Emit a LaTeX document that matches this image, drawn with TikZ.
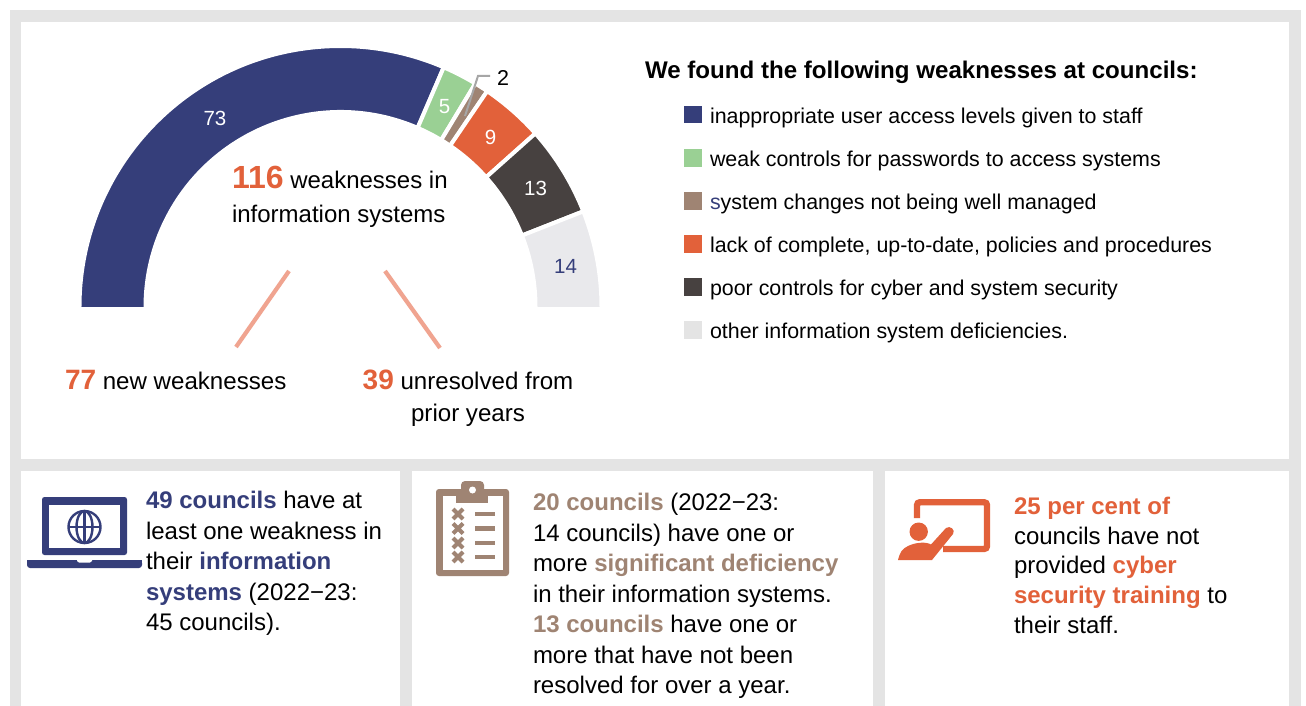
\documentclass[tikz,border=0pt]{standalone}
\usepackage{fontspec}
\setmainfont{Liberation Sans}
\definecolor{navy}{HTML}{353E7A}
\definecolor{lgreen}{HTML}{9AD094}
\definecolor{tan}{HTML}{9F8473}
\definecolor{orng}{HTML}{E2613A}
\definecolor{dark}{HTML}{474140}
\definecolor{pale}{HTML}{E9E9EC}
\definecolor{panelbg}{HTML}{E4E4E4}
\definecolor{salmon}{HTML}{F0A490}
\newcommand{\nv}[1]{\textcolor{navy}{\textbf{#1}}}
\newcommand{\tn}[1]{\textcolor{tan}{\textbf{#1}}}
\newcommand{\og}[1]{\textcolor{orng}{\textbf{#1}}}
\tikzset{
  lbl/.style={inner sep=0pt,outer sep=0pt,anchor=base west,font=\fontsize{21.4}{24}\selectfont},
  val/.style={inner sep=0pt,outer sep=0pt,font=\fontsize{20.5}{24}\selectfont},
  big/.style={inner sep=0pt,outer sep=0pt,font=\fontsize{24.1}{32.5}\selectfont},
  body/.style={inner sep=0pt,outer sep=0pt,anchor=north west,align=left,font=\fontsize{24}{30.5}\selectfont},
  swatch/.style={minimum width=17.5pt,minimum height=17.5pt,inner sep=0pt,outer sep=0pt,anchor=north west},
  pointer/.style={draw=salmon,line width=4.2pt},
  leader/.style={draw=black!35,line width=2pt},
}
\begin{document}
\begin{tikzpicture}[x=1pt,y=-1pt]
\useasboundingbox (0,0) rectangle (1306,706);
\fill[white] (0,0) rectangle (1306,706);
\fill[panelbg] (10,10) rectangle (1301,706);
\fill[white] (21,22) rectangle (1289,459);
\fill[white] (21,471) rectangle (400,706);
\fill[white] (412,471) rectangle (873,706);
\fill[white] (885,471) rectangle (1289,706);
% gauge
\begin{scope}[shift={(340.5,307)},y=1pt]
\foreach \c/\a/\b in {navy/183/66.7,lgreen/66.7/58.9,tan/58.9/55.8,orng/55.8/41.7,dark/41.7/21.5,pale/21.5/-3}{
  \fill[\c,draw=white,line width=4pt] (\a:261) arc[start angle=\a,end angle=\b,radius=261] -- (\b:195) arc[start angle=\b,end angle=\a,radius=195] -- cycle;
}
\end{scope}
\fill[white] (60,307) rectangle (620,325);
\node[val,text=white] (v73) at (215,118) {73};
\node[val,text=white] (v5) at (444.5,107) {5};
\node[val,text=white] (v9) at (490.5,137) {9};
\node[val,text=white] (v13) at (535.5,188) {13};
\node[val,text=navy] (v14) at (565.5,266.5) {14};
\node[val,text=black,font=\fontsize{21.5}{24}\selectfont] (v2) at (503,77.5) {2};
\coordinate (l1) at (465,116);
\coordinate (l2) at (478,76);
\coordinate (l3) at (490,76);
\draw[leader] (l1) -- (l2) -- (l3);
% centre
\node[big,anchor=north west,align=left,font=\fontsize{24}{34.5}\selectfont] (main) at (232,166) {\textcolor{orng}{\fontsize{32}{34.5}\selectfont\textbf{116}} weaknesses in\\information systems};
\coordinate (p1a) at (289,271); \coordinate (p1b) at (236,347);
\coordinate (p2a) at (385,271); \coordinate (p2b) at (440,348);
\draw[pointer] (p1a) -- (p1b);
\draw[pointer] (p2a) -- (p2b);
\node[big,anchor=base west] (n77) at (65,389) {\textcolor{orng}{\fontsize{28}{30}\selectfont\textbf{77}} new weaknesses};
\node[big,anchor=north,align=center] (n39) at (468,369.5) {\textcolor{orng}{\fontsize{28}{32.5}\selectfont\textbf{39}} unresolved from\\prior years};
% legend
\node[inner sep=0pt,outer sep=0pt,anchor=base west,font=\fontsize{24.1}{28}\selectfont\bfseries] (ltitle) at (645,79) {We found the following weaknesses at councils:};
\foreach \n/\c/\y/\t in {a/navy/106/{inappropriate user access levels given to staff},
 b/lgreen/149/{weak controls for passwords to access systems},
 c/tan/192/{\textcolor{navy}{s}ystem changes not being well managed},
 d/orng/235/{lack of complete, up-to-date, policies and procedures},
 e/dark/278/{poor controls for cyber and system security},
 f/panelbg/321/{other information system deficiencies.}}{
  \node[swatch,fill=\c] (s\n) at (684,\y) {};
  \node[lbl] (t\n) at (710,\y+17.5) {\t};
}
% bottom text
\node[body] (b1) at (146,491.5) {\nv{49 councils} have at\\least one weakness in\\their \nv{information}\\\nv{systems} (2022−23:\\45 councils).};
\node[body] (b2) at (533,493.5) {\tn{20 councils} (2022−23:\\14 councils) have one or\\more \tn{significant deficiency}\\in their information systems.\\\tn{13 councils} have one or\\more that have not been\\resolved for over a year.};
\node[body,font=\fontsize{24}{29.7}\selectfont] (b3) at (1014,497) {\og{25 per cent of}\\councils have not\\provided \og{cyber}\\\og{security training} to\\their staff.};
% laptop icon
\fill[navy,rounded corners=2.5pt] (42,497) rectangle (127,555);
\fill[white] (49,505) rectangle (120,548);
\draw[navy,line width=2.4pt] (84.5,527) circle[radius=16];
\draw[navy,line width=2.4pt] (84.5,527) ellipse[x radius=8,y radius=16];
\draw[navy,line width=2.4pt] (68.5,527) -- (100.5,527) (84.5,511) -- (84.5,543);
\fill[navy,rounded corners=3pt] (27,560) -- (142,560) -- (142,568) -- (27,568) -- cycle;
\fill[navy] (27,560) rectangle (142,564);
\fill[white] (77,560) -- (92,560) -- (92,561) -- (90,562.5) -- (79,562.5) -- (77,561) -- cycle;
% clipboard icon
\fill[tan,rounded corners=3pt] (436,489) rectangle (509,576);
\fill[white] (443,496) rectangle (503,570);
\fill[tan,rounded corners=4pt] (461,481) rectangle (484,495);
\fill[tan] (456,490) rectangle (488,503);
\fill[white] (472.5,490) circle[radius=3.5];
\foreach \y in {514,528.5,543,557}{
  \draw[tan,line width=4pt] (453,\y-5) -- (463,\y+5) (453,\y+5) -- (463,\y-5);
  \fill[tan] (475,\y-2.3) rectangle (495,\y+2.3);
}
% presenter icon
\draw[orng,line width=6.4pt,rounded corners=3pt] (917,518) -- (917,502.2) -- (987,502.2) -- (987,549) -- (943,549);
\fill[orng] (918.7,531.7) circle[radius=9.2];
\fill[orng] (898,560) .. controls (900,552) and (902,549) .. (908,546) .. controls (914,543) and (925,541) .. (931,544.5) -- (946,528) .. controls (950,525) and (956,530) .. (953,534) -- (932,560) -- cycle;
\end{tikzpicture}
\end{document}
